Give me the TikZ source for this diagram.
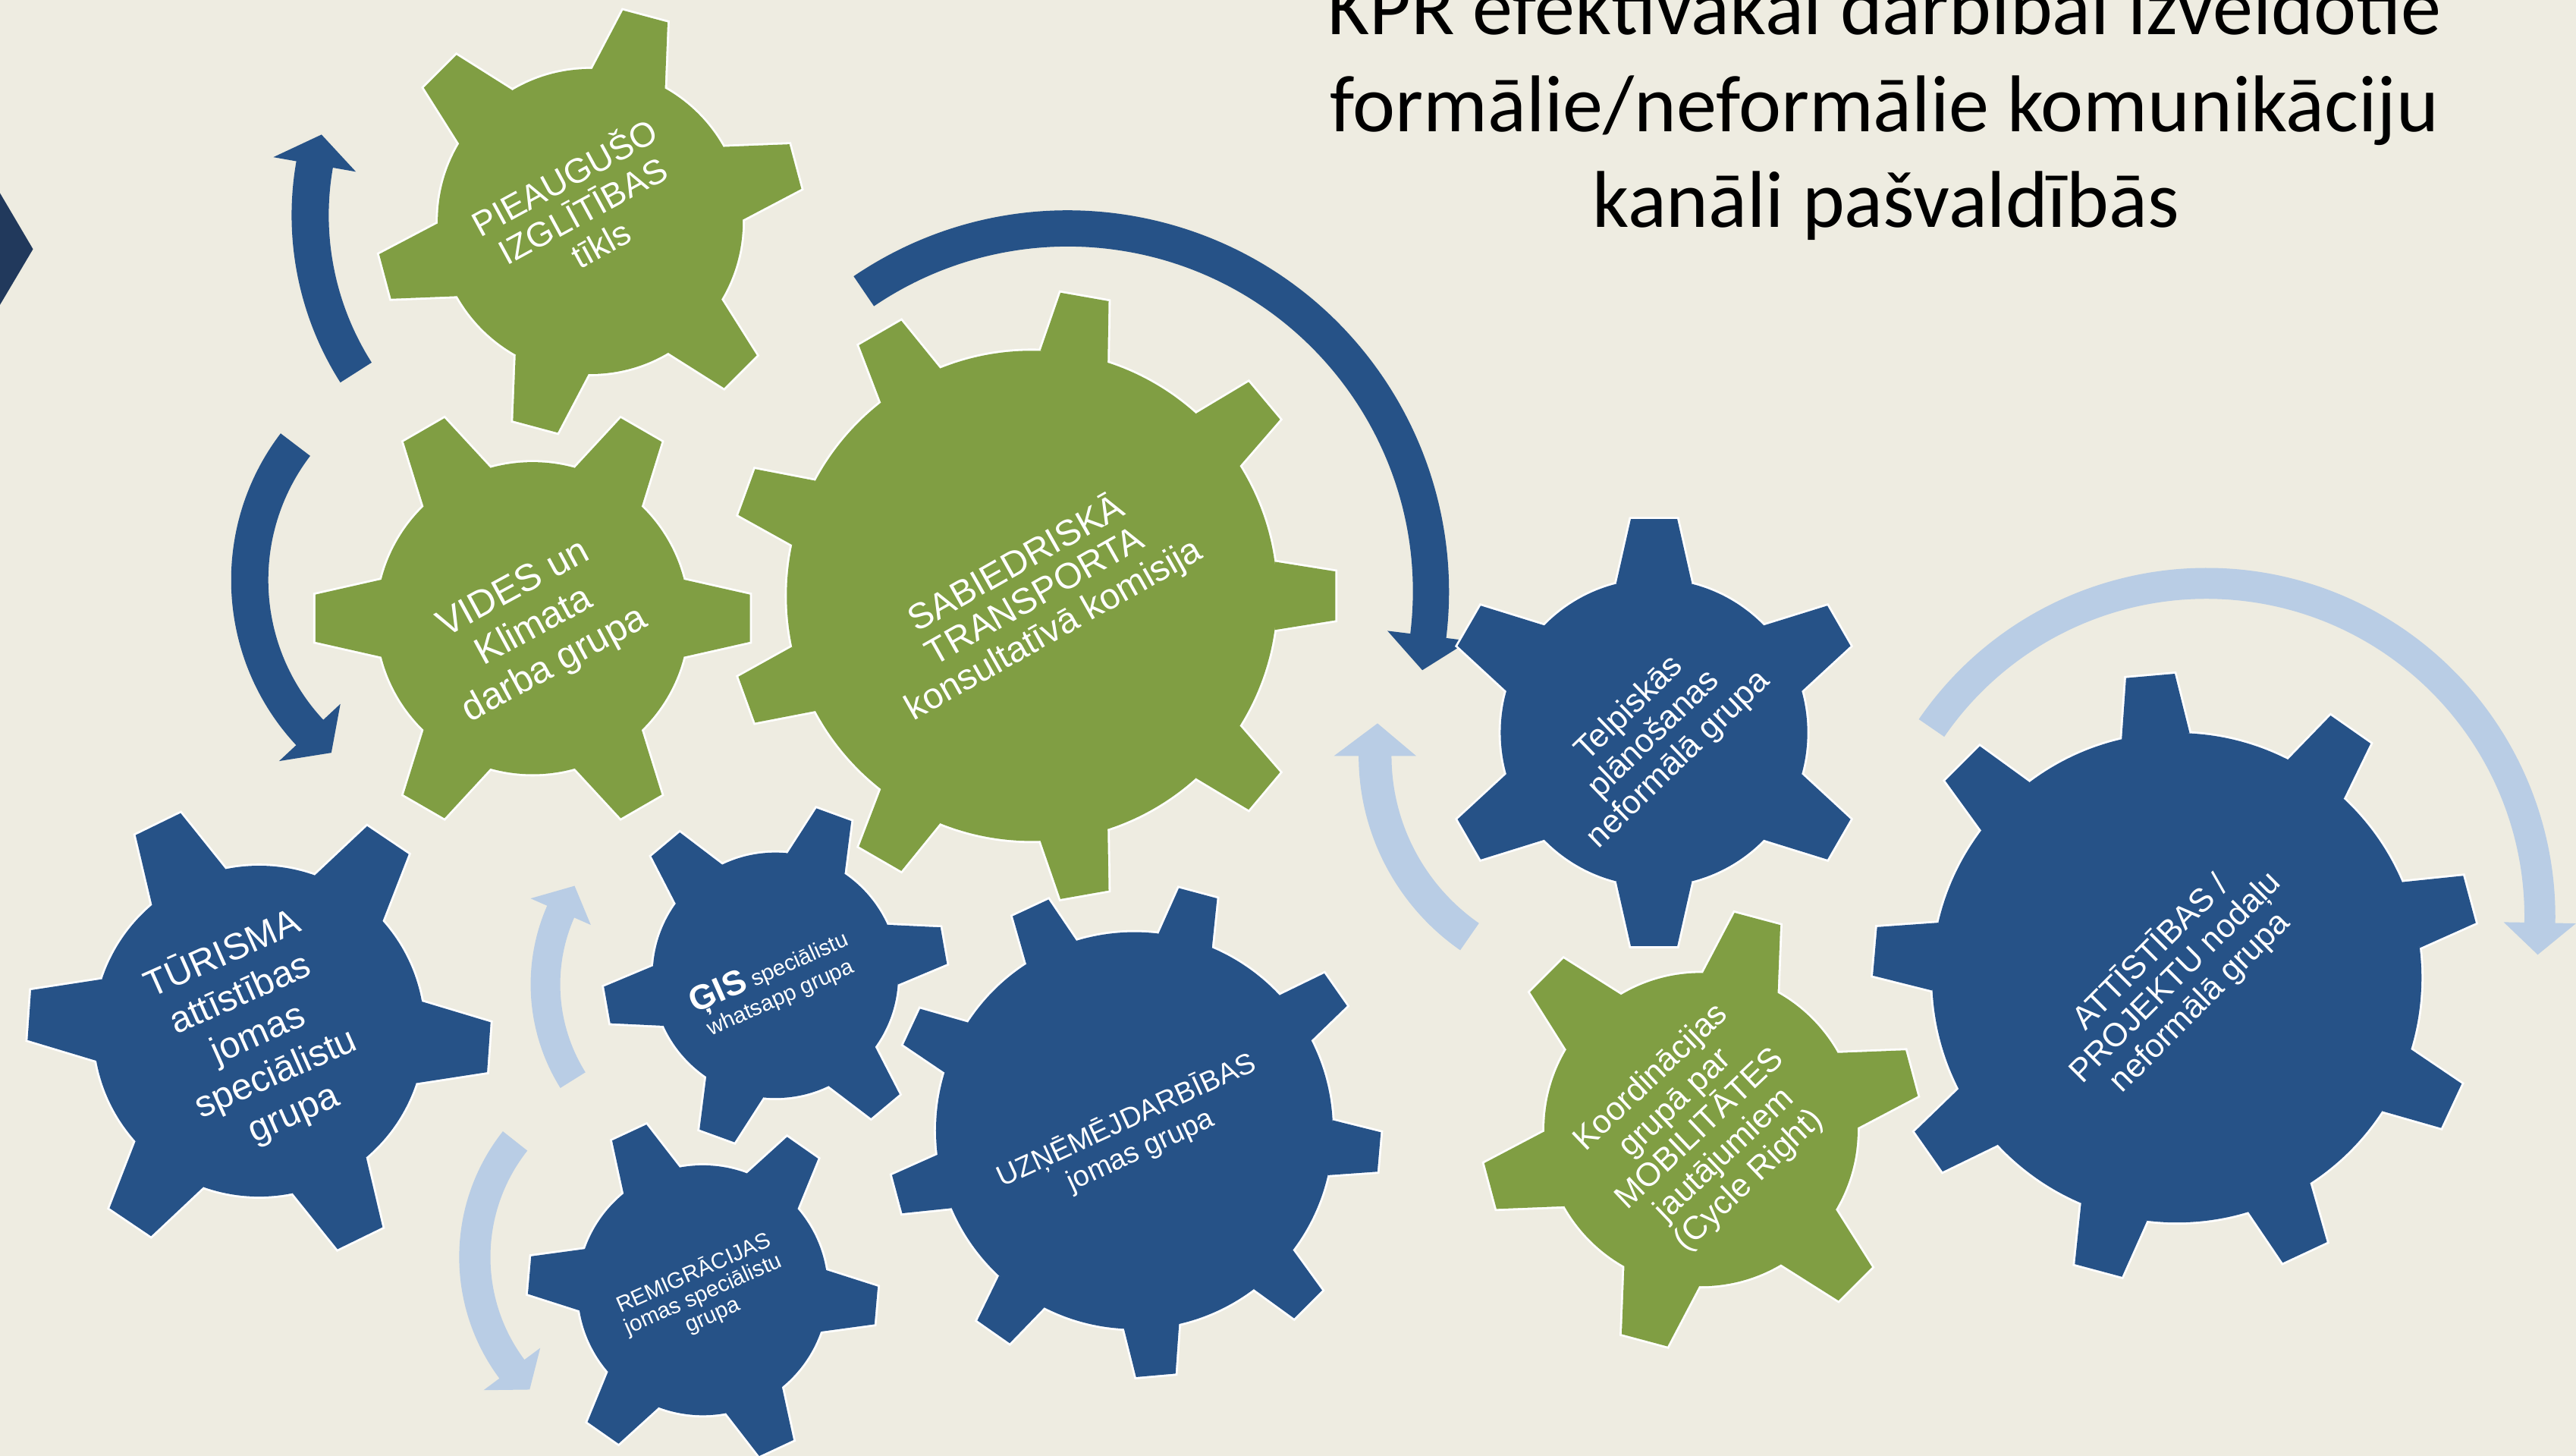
\documentclass[tikz,border=0pt]{standalone}
\usepackage{fontspec}
\setmainfont{Liberation Sans}
\newfontfamily\titlefont{Carlito}
\definecolor{bgbeige}{RGB}{238,236,225}
\definecolor{gblue}{RGB}{38,82,135}
\definecolor{ggreen}{RGB}{128,158,67}
\definecolor{ltblue}{RGB}{185,205,229}
\definecolor{navyc}{RGB}{33,57,92}
% gear: x, y(down), R, r/R, tip half-angle, base half-angle, teeth, phase, colour
\newcommand{\drawgear}[9]{%
  \begin{scope}[shift={(#1,-#2)}]
    \pgfmathsetmacro{\gearRo}{#3}%
    \pgfmathsetmacro{\gearRi}{#3*#4}%
    \pgfmathsetmacro{\gearSt}{360/#7}%
    \foreach \k in {1,...,#7}{%
      \pgfmathsetmacro{\gearAn}{#8+\k*\gearSt}%
      \filldraw[gearedge] ({\gearAn-#6}:\gearRi) -- ({\gearAn-#5}:\gearRo) -- ({\gearAn+#5}:\gearRo) -- ({\gearAn+#6}:\gearRi) -- cycle;}
    \filldraw[gearedge] (0,0) circle[radius=\gearRi];
    \foreach \k in {1,...,#7}{%
      \pgfmathsetmacro{\gearAn}{#8+\k*\gearSt}%
      \fill[#9] ({\gearAn-#6}:\gearRi) -- ({\gearAn-#5}:\gearRo) -- ({\gearAn+#5}:\gearRo) -- ({\gearAn+#6}:\gearRi) -- cycle;}
    \fill[#9] (0,0) circle[radius=\gearRi];
  \end{scope}}
\newcommand{\gearsix}[5]{\drawgear{#1}{#2}{#3}{0.714}{6.2}{14.3}{6}{#4}{#5}}
\newcommand{\gearnine}[5]{\drawgear{#1}{#2}{#3}{0.805}{4.6}{8.0}{9}{#4}{#5}}
% circular arrow: cx, cy(down), R, half width, start, head base, tip, head half width, colour
\newcommand{\circarrow}[9]{%
  \fill[#9, shift={(#1,-#2)}] (#5:{#3+#4}) arc[start angle=#5, end angle=#6, radius={#3+#4}]
    -- (#6:{#3+#8}) -- (#7:#3) -- (#6:{#3-#8}) -- (#6:{#3-#4})
    arc[start angle=#6, end angle=#5, radius={#3-#4}] -- cycle;}
\begin{document}
\begin{tikzpicture}[x=1pt,y=1pt,
  gearedge/.style={draw=white, fill=white, line width=2.6pt, line join=miter},
  gtext/.style={text=white, align=center, inner sep=0pt},
  titletext/.style={text=black, inner sep=0pt, font=\titlefont\fontsize{49}{58}\selectfont}]
\useasboundingbox (0,-886) rectangle (1568,0);
\clip (0,-886) rectangle (1568,0);
\fill[bgbeige] (0,-886) rectangle (1568,0);
% left chevron tip
\fill[navyc] (-30,-117.5) -- (0,-117.5) -- (20.1,-151.6) -- (0,-185.5) -- (-30,-185.5) -- cycle;
% title
\node[titletext, anchor=base] (t1) at (1147,-21) {KPR efektīvākai darbībai izveidotie};
\node[titletext, anchor=base] (t2) at (1147,-80) {formālie/neformālie komunikāciju};
\node[titletext, anchor=base] (t3) at (1148,-138.5) {kanāli pašvaldībās};
% arrows
\circarrow{366.9}{131}{178.1}{11.3}{212.5}{170}{164}{25.5}{gblue}
\circarrow{288}{353}{136}{11.3}{142.7}{223}{230.6}{25.5}{gblue}
\circarrow{650}{360}{221}{11}{124.2}{-7}{-12.5}{25}{gblue}
\circarrow{442}{599}{110}{9}{212}{156.3}{147}{20}{ltblue}
\circarrow{403}{765}{114}{9.5}{141.7}{216.7}{225}{21.5}{ltblue}
\circarrow{971}{460}{134}{10}{235.2}{180}{171.5}{25}{ltblue}
\circarrow{1343}{558}{203}{9.4}{145.5}{-1}{-6.5}{22}{ltblue}
% gears
\gearsix{359.3}{134.8}{130}{15}{ggreen}
\gearsix{324.2}{376.2}{133}{0}{ggreen}
\gearnine{628.1}{362.6}{185.3}{0}{ggreen}
\gearsix{157.7}{627.5}{141}{-4}{gblue}
\gearsix{472}{593.5}{104.6}{10}{gblue}
\gearsix{427.8}{785.2}{106.5}{-5}{gblue}
\gearnine{690.5}{688}{150}{35}{gblue}
\gearsix{1006.8}{445.8}{130.7}{30}{gblue}
\gearsix{1035.4}{687.4}{133.5}{15}{ggreen}
\gearnine{1325}{595}{185}{15}{gblue}
% gear texts
\node[gtext, rotate=28.6, font=\fontsize{21}{23}\selectfont] (pieaug) at (354,-127) {PIEAUGUŠO\\IZGLĪTĪBAS\\tīkls};
\node[gtext, rotate=28.5, font=\fontsize{23}{26.2}\selectfont] (vides) at (325.5,-382) {VIDES un\\Klimata\\darba grupa};
\node[gtext, rotate=29.5, font=\fontsize{22}{23}\selectfont] (sabiedr) at (630,-363) {SABIEDRISKĀ\\TRANSPORTA\\konsultatīvā komisija};
\node[gtext, rotate=24, font=\fontsize{22.5}{26.5}\selectfont] (turisma) at (157,-629) {TŪRISMA\\attīstības\\jomas\\speciālistu\\grupa};
\node[gtext, rotate=24, font=\fontsize{13.5}{16.5}\selectfont] (gis) at (471,-598) {{\bfseries\fontsize{21}{21}\selectfont ĢIS} speciālistu\\whatsapp grupa};
\node[gtext, rotate=24, font=\fontsize{13.5}{14}\selectfont] (remigr) at (428,-787.5) {REMIGRĀCIJAS\\jomas speciālistu\\grupa};
\node[gtext, rotate=24.8, font=\fontsize{17.5}{20}\selectfont] (uzn) at (689.8,-690.8) {UZŅĒMĒJDARBĪBAS\\jomas grupa};
\node[gtext, rotate=44, font=\fontsize{20}{21.5}\selectfont] (telp) at (1007,-447) {Telpiskās\\plānošanas\\neformālā grupa};
\node[gtext, rotate=43.5, font=\fontsize{20}{21.6}\selectfont] (koord) at (1035,-687.3) {Koordinācijas\\grupā par\\MOBILITĀTES\\jautājumiem\\(Cycle Right)};
\node[gtext, rotate=45, font=\fontsize{20}{21.2}\selectfont] (attist) at (1324,-594.5) {ATTĪSTĪBAS /\\PROJEKTU nodaļu\\neformālā grupa};
\end{tikzpicture}
\end{document}
